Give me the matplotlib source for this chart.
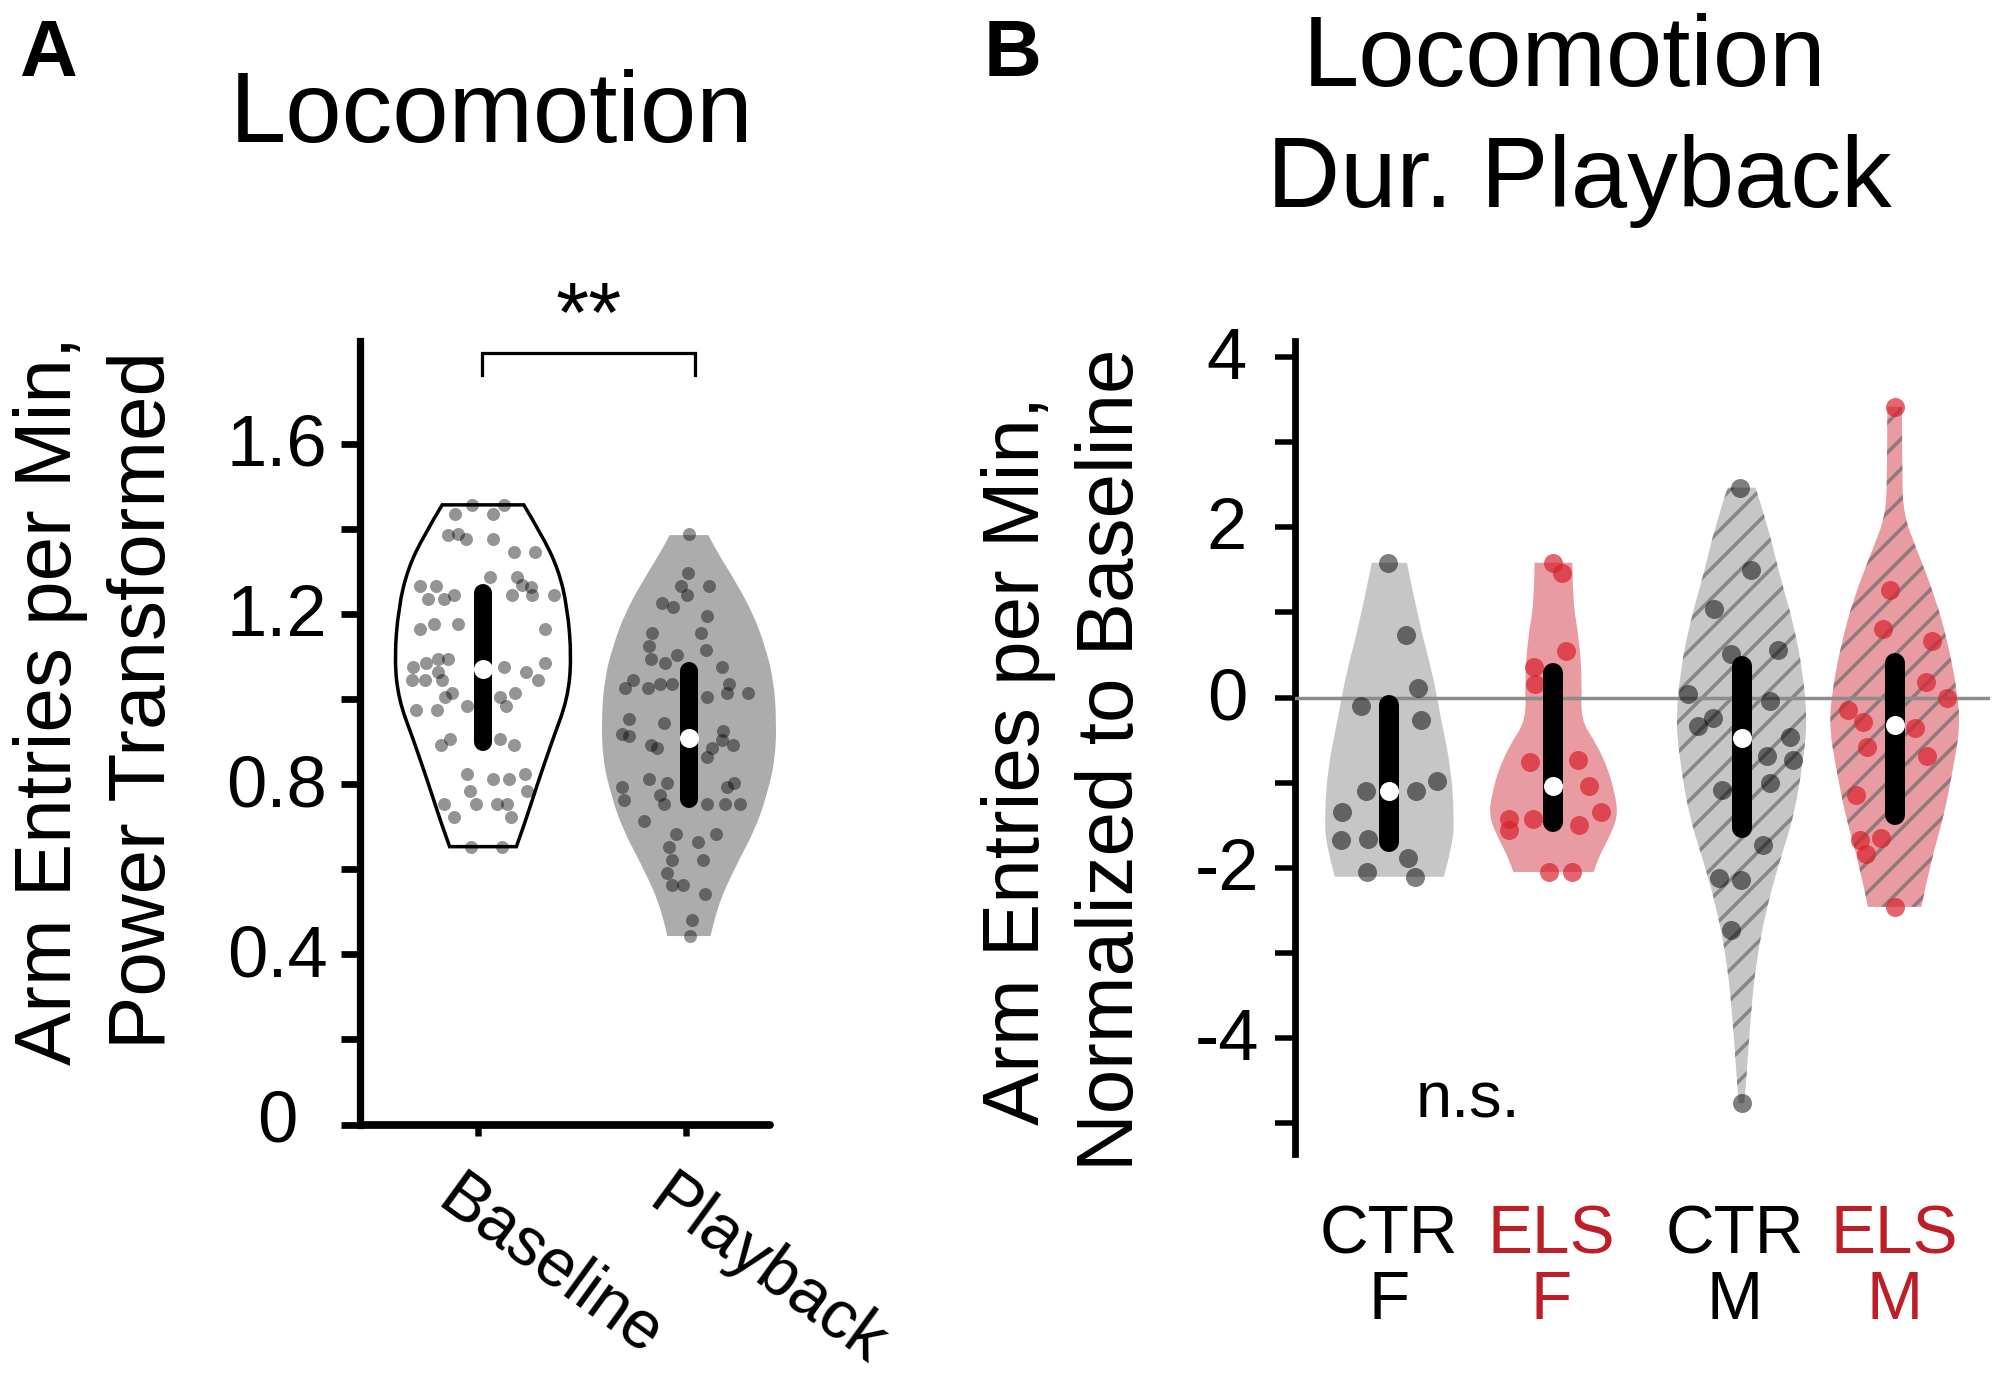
import numpy as np
import matplotlib
matplotlib.use("Agg")
import matplotlib.pyplot as plt
from matplotlib.path import Path
from matplotlib.patches import PathPatch
from matplotlib.transforms import ScaledTranslation

plt.rcParams['font.family'] = ['Liberation Sans', 'DejaVu Sans']
plt.rcParams['hatch.linewidth'] = 1.4

# ---------- Panel A data ----------
A_categories = ['Baseline', 'Playback']
A_yticks = [0, 0.4, 0.8, 1.2, 1.6]
base_val = [1.456,1.456,1.435,1.435,1.385,1.387,1.376,1.376,1.346,1.346,1.286,1.286,1.267,1.264,1.265,1.265,1.235,1.235,1.245,1.245,1.245,1.245,
            1.165,1.175,1.175,1.165,1.095,1.095,1.085,1.075,1.064,1.075,1.064,1.085,1.045,1.045,1.045,1.045,1.014,1.004,1.014,1.004,0.984,0.984,0.974,0.974,
            0.905,0.893,0.905,0.893,0.823,0.823,0.813,0.813,0.783,0.783,0.753,0.753,0.753,0.753,0.723,0.723,0.653,0.653]
base_off = [-0.052,0.104,-0.138,0.05,-0.17,-0.122,-0.083,0.05,0.151,0.254,0.032,0.164,0.19,0.235,-0.305,-0.229,-0.267,-0.191,-0.139,0.141,0.238,0.344,
            -0.305,-0.237,-0.123,0.3,-0.217,-0.17,-0.277,-0.34,-0.217,0.1,0.207,0.303,-0.347,-0.28,-0.199,0.267,-0.152,-0.186,0.154,0.084,0.11,-0.079,-0.323,-0.224,
            -0.162,-0.203,0.084,0.152,-0.076,0.206,0.047,0.128,-0.063,0.212,-0.191,-0.032,0.07,0.117,-0.141,0.136,-0.06,0.094]
play_val = [1.387,1.295,1.265,1.265,1.245,1.225,1.215,1.195,1.155,1.155,1.124,1.114,1.095,1.104,1.084,1.075,1.045,1.025,1.025,1.034,1.034,1.034,1.014,1.014,1.004,
            0.954,0.943,0.924,0.918,0.914,0.904,0.893,0.893,0.884,0.884,0.864,0.813,0.803,0.803,0.793,0.793,0.763,0.774,0.753,0.753,0.753,0.753,0.713,
            0.683,0.683,0.663,0.653,0.622,0.622,0.592,0.563,0.563,0.542,0.481,0.442]
play_off = [0.002,-0.003,-0.039,0.097,-0.011,-0.133,-0.079,0.086,-0.18,0.06,-0.196,0.081,-0.185,-0.058,-0.118,0.162,-0.274,-0.311,-0.201,-0.141,-0.083,0.194,0.183,0.287,0.089,
            -0.293,-0.12,0.165,-0.323,-0.293,0.16,0.212,-0.185,-0.157,0.112,0.086,-0.193,-0.107,0.219,0.183,-0.326,-0.314,-0.141,-0.12,0.089,0.175,0.25,-0.217,
            -0.065,0.13,0.045,-0.099,-0.083,0.07,-0.105,-0.081,-0.028,0.076,0.016,0.003]
base_lev = [1.456,1.386,1.306,1.215,1.095,0.999,0.907,0.797,0.711,0.653]
base_hw = [0.198,0.285,0.365,0.41,0.43,0.41,0.34,0.262,0.205,0.162]
play_lev = [1.385,1.354,1.277,1.2,1.123,1.047,0.951,0.855,0.769,0.692,0.606,0.51,0.443]
play_hw = [0.094,0.126,0.225,0.312,0.37,0.41,0.425,0.418,0.375,0.32,0.225,0.135,0.105]
A_med = [1.071, 0.908]
A_q3 = [1.25, 1.066]
A_q1 = [0.90, 0.764]

# ---------- Panel B data ----------
B_cat = ['CTR\nF', 'ELS\nF', 'CTR\nM', 'ELS\nM']
B_pos = [1, 2, 3.146, 4.079]
B_yticks = [4, 2, 0, -2, -4]
cf_val = [1.583,0.735,0.114,-0.103,-0.268,-0.985,-1.099,-1.099,-1.35,-1.669,-1.657,-1.891,-2.05,-2.107]
cf_off = [-0.006,0.101,0.177,-0.172,0.192,0.293,-0.144,0.163,-0.287,-0.296,-0.13,0.113,-0.138,0.155]
ef_val = [1.583,1.464,0.552,0.359,0.154,-0.763,-0.729,-1.042,-1.35,-1.424,-1.424,-1.555,-1.503,-2.05,-2.05]
ef_off = [-0.003,0.054,0.079,-0.121,-0.115,-0.146,0.152,0.217,0.29,-0.268,-0.127,-0.27,0.158,-0.028,0.11]
cm_val = [2.466,1.503,1.042,0.564,0.507,0.046,-0.046,-0.245,-0.336,-0.467,-0.683,-0.735,-1.008,-1.088,-1.737,-2.118,-2.147,-2.728,-4.766]
cm_off = [-0.008,0.059,-0.166,0.223,-0.062,-0.324,0.175,-0.175,-0.268,0.293,0.158,0.313,0.175,-0.121,0.13,-0.135,-0.006,-0.065,0.003]
em_val = [3.417,1.264,0.809,0.666,0.188,0,-0.148,-0.29,-0.353,-0.581,-0.683,-1.15,-1.669,-1.651,-1.839,-2.46]
em_off = [0,-0.031,-0.073,0.228,0.192,0.321,-0.287,-0.192,0.127,-0.166,0.2,-0.237,-0.214,-0.082,-0.172,0.003]
cf_lev = [1.583,0.883,0.313,-0.256,-0.826,-1.395,-1.737,-2.107]
cf_hw = [0.107,0.18,0.26,0.315,0.375,0.395,0.385,0.332]
ef_lev = [1.583,1.11,0.712,0.199,-0.256,-0.541,-0.826,-1.11,-1.395,-1.68,-1.908,-2.05]
ef_hw = [0.115,0.118,0.155,0.175,0.165,0.26,0.33,0.372,0.395,0.33,0.268,0.245]
cm_lev = [2.466,2.022,1.452,0.883,0.313,-0.256,-0.712,-1.395,-1.965,-2.534,-3.104,-3.673,-4.527,-4.766]
cm_hw = [0.085,0.16,0.23,0.315,0.372,0.4,0.378,0.32,0.225,0.145,0.09,0.058,0.028,0.017]
em_lev = [3.417,2.591,2.136,1.737,1.167,0.598,0.028,-0.37,-0.826,-1.395,-1.965,-2.46]
em_hw = [0.045,0.045,0.056,0.135,0.25,0.33,0.385,0.397,0.357,0.3,0.215,0.163]
B_med = [-1.1, -1.04, -0.473, -0.325]
B_q3 = [-0.09, 0.29, 0.366, 0.406]
B_q1 = [-1.70, -1.46, -1.533, -1.38]

W, H, DPI = 1995, 1379, 180
fig = plt.figure(figsize=(W/DPI, H/DPI), dpi=DPI, facecolor='white')
PX = 72/DPI

def make_axes(left, top, right, bottom):
    ax = fig.add_axes([left/W, 1-bottom/H, (right-left)/W, (bottom-top)/H])
    ax.patch.set_alpha(0)
    for s in ('top', 'right'):
        ax.spines[s].set_visible(False)
    return ax

def violin(ax, c, lev, hw, **kw):
    right = [(c+w, y) for y, w in zip(lev, hw)]
    left = [(c-w, y) for y, w in zip(lev[::-1], hw[::-1])]
    verts, codes = [], []
    def side(pts, first):
        verts.append(pts[0]); codes.append(Path.MOVETO if first else Path.LINETO)
        for i in range(1, len(pts)-1):
            verts.append(pts[i]); codes.append(Path.CURVE3)
            if i < len(pts)-2:
                mid = ((pts[i][0]+pts[i+1][0])/2, (pts[i][1]+pts[i+1][1])/2)
            else:
                mid = pts[-1]
            verts.append(mid); codes.append(Path.CURVE3)
    side(right, True); side(left, False)
    verts.append(right[0]); codes.append(Path.CLOSEPOLY)
    ax.add_patch(PathPatch(Path(verts, codes), clip_on=False, **kw))

def box(ax, c, q1, q3, med, lw_px, ms_px):
    ax.plot([c, c], [q1, q3], color='black', lw=lw_px*PX, solid_capstyle='round', zorder=5)
    ax.scatter([c], [med], s=(ms_px*PX)**2, color='white', lw=0, zorder=6)

def shift(lbl, dx_px, dy_px):
    lbl.set_transform(lbl.get_transform() + ScaledTranslation(dx_px/DPI, dy_px/DPI, fig.dpi_scale_trans))

# ---------- Panel A ----------
axA = make_axes(360, 341, 770, 1124.6)
axA.set_xlim(0.403, 0.403+410/206)
axA.set_ylim(0, 1.841)
violin(axA, 1, base_lev, base_hw, facecolor='white', edgecolor='black', lw=1.4, zorder=2)
violin(axA, 2, play_lev, play_hw, facecolor='#acacac', edgecolor='none', lw=0, zorder=2)
axA.scatter(1+np.array(base_off), base_val, s=(13*PX)**2, color='black', alpha=0.42, lw=0, zorder=3, clip_on=False)
axA.scatter(2+np.array(play_off), play_val, s=(13*PX)**2, color='black', alpha=0.42, lw=0, zorder=3, clip_on=False)
for i in range(2):
    box(axA, i+1, A_q1[i], A_q3[i], A_med[i], 18, 19)
axA.plot([0.994, 0.994, 2.028, 2.028], [1.76, 1.813, 1.813, 1.76], color='black', lw=1.3, clip_on=False, solid_joinstyle='miter')
axA.text(1.515, 1.89, '**', fontsize=34, ha='center', va='center', clip_on=False)
axA.spines['left'].set_linewidth(2.9)
axA.spines['bottom'].set_linewidth(3.1)
axA.spines['bottom'].set_capstyle('round')
A_all = np.arange(0, 1.61, 0.2)
axA.set_yticks(A_all)
axA.set_yticklabels([('0' if abs(t) < 1e-9 else f'{t:.1f}') if any(abs(t-v) < 1e-9 for v in A_yticks) else '' for t in A_all], ha='center')
axA.tick_params(axis='y', length=19*PX, width=2.7, labelsize=29, pad=13*PX)
axA.set_xticks([0.978, 1.985])
axA.set_xticklabels(A_categories, rotation=-36, ha='left', va='top', rotation_mode='anchor', fontsize=27)
axA.tick_params(axis='x', length=11*PX, width=2.6, pad=30*PX)
for lbl, dx in zip(axA.get_xticklabels(), [-14, -11]):
    shift(lbl, dx, 0)
for lbl, t in zip(axA.get_yticklabels(), A_all):
    shift(lbl, -51, 9 if abs(t) < 1e-9 else 4)
axA.set_ylabel('Arm Entries per Min,\nPower Transformed', fontsize=32, linespacing=1.32)
axA.yaxis.set_label_coords((182-360)/410, (1124.6-700)/783.6)

# ---------- Panel B ----------
axB = make_axes(1295, 341, 1990, 1154)
axB.set_xlim(0.425, 4.66)
axB.set_ylim((697.5-1154)/85.1, (697.5-341)/85.1)
groups = [(cf_lev, cf_hw, cf_val, cf_off), (ef_lev, ef_hw, ef_val, ef_off),
          (cm_lev, cm_hw, cm_val, cm_off), (em_lev, em_hw, em_val, em_off)]
fills = ['#c6c6c6', '#e89ba0', '#c6c6c6', '#e89ba0']
dots = [('black', 0.5), ('#d81e2a', 0.68), ('black', 0.5), ('#d81e2a', 0.68)]
for i, (lev, hw, val, off) in enumerate(groups):
    c = B_pos[i]
    violin(axB, c, lev, hw, facecolor=fills[i], edgecolor='none', lw=0, zorder=2)
    if i >= 2:
        violin(axB, c, lev, hw, facecolor='none', edgecolor=(0.42, 0.42, 0.42, 0.7), lw=0, hatch='//', zorder=2.1)
    axB.scatter(c+np.array(off), val, s=(19*PX)**2, color=dots[i][0], alpha=dots[i][1], lw=0, zorder=3.5, clip_on=False)
    box(axB, c, B_q1[i], B_q3[i], B_med[i], 20, 19)
axB.axhline(0, color='#8c8c8c', lw=1.4, zorder=3)
axB.text(1.48, (697.5-1101)/85.1, 'n.s.', fontsize=26, ha='center', va='center')
axB.spines['bottom'].set_visible(False)
axB.spines['left'].set_linewidth(2.7)
B_all = np.arange(-5, 5)
axB.set_yticks(B_all)
axB.set_yticklabels([str(t) if t in B_yticks else '' for t in B_all], ha='center')
axB.tick_params(axis='y', length=20*PX, width=2.2, labelsize=29, pad=26*PX)
for lbl in axB.get_yticklabels():
    shift(lbl, -22, 4)
axB.set_xticks(B_pos)
axB.set_xticklabels(B_cat, fontsize=27, linespacing=1.02)
axB.tick_params(axis='x', length=0, pad=50*PX)
for lbl, col, dx in zip(axB.get_xticklabels(), ['black', '#be1e28', 'black', '#be1e28'], [0, -2, -7, 0]):
    lbl.set_color(col)
    shift(lbl, dx, 0)
axB.set_ylabel('Arm Entries per Min,\nNormalized to Baseline', fontsize=32, linespacing=1.32)
axB.yaxis.set_label_coords((1150-1295)/695, (1154-760)/813)

# ---------- Titles / panel letters ----------
def ftext(x, y, s, **kw):
    fig.text(x/W, 1-y/H, s, **kw)
ftext(492, 142, 'Locomotion', fontsize=40.5, ha='center', va='baseline')
ftext(1565, 86, 'Locomotion', fontsize=40.5, ha='center', va='baseline')
ftext(1579, 207, 'Dur. Playback', fontsize=40.5, ha='center', va='baseline')
ftext(20, 76, 'A', fontsize=32, fontweight='bold', ha='left', va='baseline')
ftext(984, 76, 'B', fontsize=32, fontweight='bold', ha='left', va='baseline')

fig.savefig('out.png', dpi=DPI)
